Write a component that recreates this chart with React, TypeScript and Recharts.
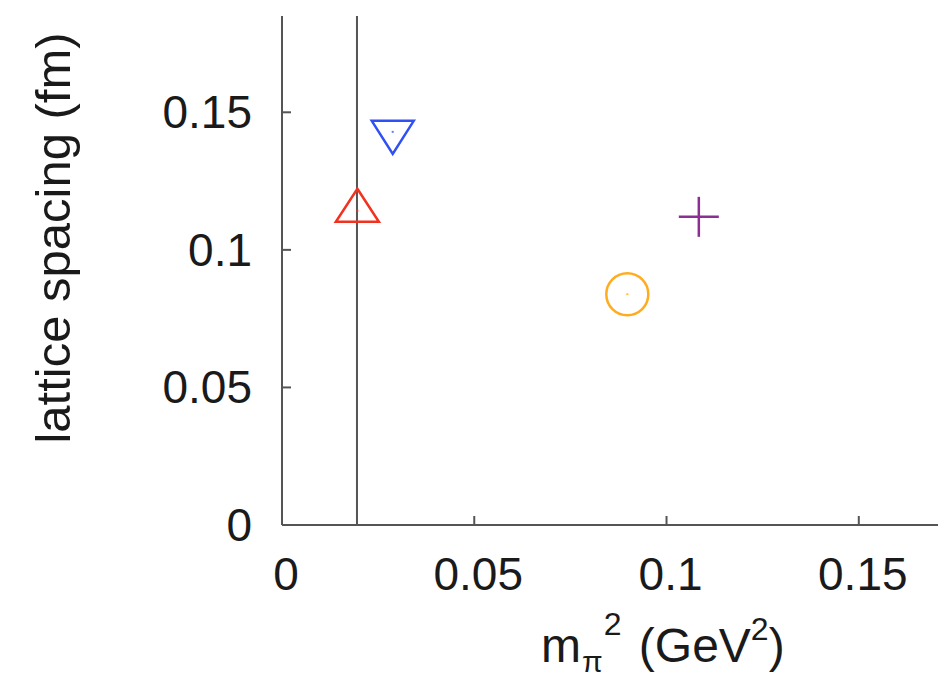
import { ScatterChart, Scatter, XAxis, YAxis, ReferenceLine } from 'recharts';

// m_pi^2 (GeV^2) and lattice spacing (fm) for each ensemble
const ensembles = ['triangleUp', 'triangleDown', 'circle', 'plus'];
const mpiSq = [0.0196, 0.0288, 0.0898, 0.1084];
const spacing = [0.1142, 0.1429, 0.0839, 0.112];
const colors = ['#f2321f', '#2f50f5', '#ffad1f', '#8b2f92'];
const physicalMpiSq = 0.0195;
const xTicks = [0, 0.05, 0.1, 0.15];
const yTicks = [0, 0.05, 0.1, 0.15];

const AXIS = '#555555';
const FONT = '"Liberation Sans", Arial, sans-serif';

function Marker({ cx, cy, kind, color }: { cx: number; cy: number; kind: string; color: string }) {
    const sw = 2.5;
    let body = null;
    if (kind === 'triangleUp') {
        body = <polygon points={`${cx},${cy - 22} ${cx + 21.5},${cy + 11} ${cx - 21.5},${cy + 11}`} fill="none" stroke={color} strokeWidth={sw} />;
    } else if (kind === 'triangleDown') {
        body = <polygon points={`${cx - 21},${cy - 11} ${cx + 21},${cy - 11} ${cx},${cy + 22}`} fill="none" stroke={color} strokeWidth={sw} />;
    } else if (kind === 'circle') {
        body = <circle cx={cx} cy={cy} r={21} fill="none" stroke={color} strokeWidth={sw} />;
    } else {
        body = (
            <g stroke={color} strokeWidth={sw}>
                <line x1={cx - 20} y1={cy} x2={cx + 20} y2={cy} />
                <line x1={cx} y1={cy - 20} x2={cx} y2={cy + 20} />
            </g>
        );
    }
    return (
        <g>
            {body}
            <circle cx={cx} cy={cy} r={1.2} fill={color} opacity={0.7} />
        </g>
    );
}

function fmt(v: number) {
    return String(v);
}

function XTick({ x, y, payload }: any) {
    return (
        <g>
            <line x1={x} y1={y} x2={x} y2={y - 9} stroke={AXIS} strokeWidth={2} />
            <text x={x + 4} y={y + 65} textAnchor="middle" fontSize={46} fontFamily={FONT} fill="#1a1a1a">
                {fmt(payload.value)}
            </text>
        </g>
    );
}

function YTick({ x, y, payload }: any) {
    return (
        <g>
            <line x1={x + 30} y1={y} x2={x + 39} y2={y} stroke={AXIS} strokeWidth={2} />
            <text x={x} y={y + 16} textAnchor="end" fontSize={46} fontFamily={FONT} fill="#1a1a1a">
                {fmt(payload.value)}
            </text>
        </g>
    );
}

function XLabel() {
    return (
        <text x={541} y={662} fontSize={48} fontFamily={FONT} fill="#1a1a1a">
            <tspan>m</tspan>
            <tspan fontSize={30} dx={1} dy={10}>π</tspan>
            <tspan fontSize={32} dx={1} dy={-37}>2</tspan>
            <tspan fontSize={48} dx={4} dy={27}> (GeV</tspan>
            <tspan fontSize={32} dy={-22}>2</tspan>
            <tspan fontSize={48} dy={22}>)</tspan>
        </text>
    );
}

function YLabel() {
    return (
        <text x={70} y={238} transform="rotate(-90 70 238)" textAnchor="middle" fontSize={49} fontFamily={FONT} fill="#1a1a1a">
            lattice spacing (fm)
        </text>
    );
}

export default function App() {
    return (
        <div style={{ position: 'absolute', left: 0, top: 0, width: 938, height: 678, background: '#fff' }}>
            <ScatterChart width={938} height={678} margin={{ top: 16, right: 0, bottom: 0, left: 0 }}>
                <XAxis
                    type="number"
                    dataKey="x"
                    domain={[0, 0.1706]}
                    ticks={xTicks}
                    height={153}
                    axisLine={{ stroke: AXIS, strokeWidth: 2 }}
                    tickLine={false}
                    tickSize={0}
                    tickMargin={0}
                    tick={<XTick />}
                    interval={0}
                    allowDataOverflow
                    label={{ content: () => <XLabel /> }}
                />
                <YAxis
                    type="number"
                    dataKey="y"
                    domain={[0, 0.185]}
                    ticks={yTicks}
                    width={282}
                    axisLine={{ stroke: AXIS, strokeWidth: 2 }}
                    tickLine={false}
                    tickSize={0}
                    tickMargin={30}
                    tick={<YTick />}
                    interval={0}
                    allowDataOverflow
                    label={{ content: () => <YLabel /> }}
                />
                <ReferenceLine x={physicalMpiSq} stroke={AXIS} strokeWidth={2} />
                {ensembles.map((kind, i) => (
                    <Scatter
                        key={kind}
                        name={kind}
                        data={[{ x: mpiSq[i], y: spacing[i] }]}
                        isAnimationActive={false}
                        shape={(p: any) => <Marker cx={p.cx} cy={p.cy} kind={kind} color={colors[i]} />}
                    />
                ))}
            </ScatterChart>
        </div>
    );
}
